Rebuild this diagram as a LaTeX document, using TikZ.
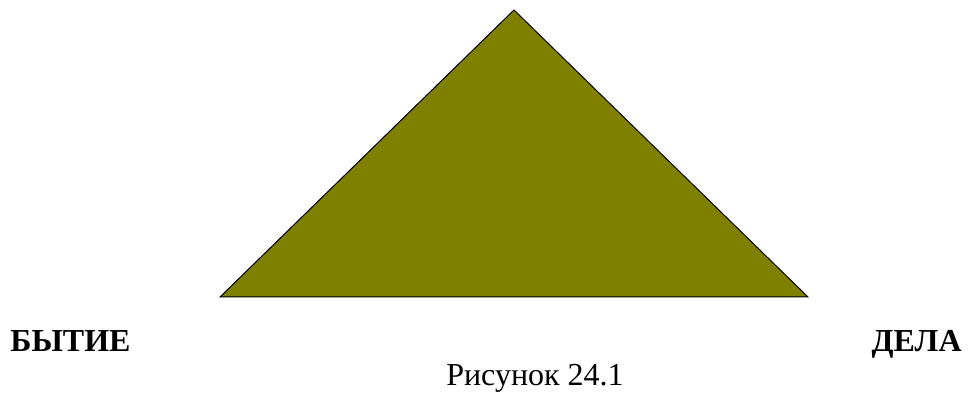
\documentclass[tikz,border=0pt]{standalone}
\usepackage{fontspec}
\setmainfont{Liberation Serif}
\usepackage{tikz}
\usetikzlibrary{positioning}
\definecolor{olivefill}{RGB}{128,128,0}

\begin{document}
\begin{tikzpicture}[
    x=0.5pt, y=-0.5pt,
    tri/.style={draw=black, fill=olivefill, line width=0.5pt, line join=miter},
    word/.style={font=\fontsize{16}{19}\selectfont\bfseries, inner sep=0pt},
    figlabel/.style={font=\fontsize{16}{19}\selectfont, inner sep=0pt},
]
\useasboundingbox (0,0) rectangle (970,394);
\coordinate (top) at (514,10);
\coordinate (left) at (220,297);
\coordinate (right) at (808,297);
\draw[tri] (top) -- (left) -- (right) -- cycle;

\node[word, anchor=base west] (being) at (10,352) {БЫТИЕ};
\node[word, anchor=base east] (deeds) at (962,352) {ДЕЛА};
\node[figlabel, anchor=base] (caption) at (535,386) {Рисунок 24.1};
\end{tikzpicture}
\end{document}
